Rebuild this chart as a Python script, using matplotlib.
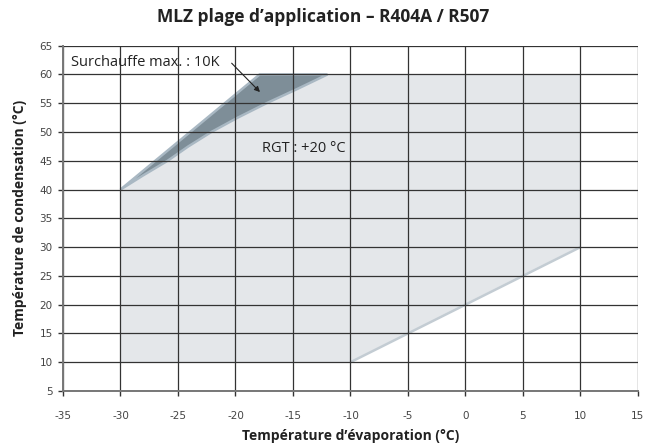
import matplotlib.pyplot as plt
from matplotlib.patches import Polygon

plt.rcParams['axes.unicode_minus'] = False

# Enveloppe d'application (evaporation, condensation)
env_x = [-30, -10, 10, 10, -17.9, -30]
env_y = [10, 10, 30, 60, 60, 40]

# Bande surchauffe max. 10K (bord externe puis bord interne)
band_x = [-30, -17.9, -12.0, -14.6, -17.3, -19.8, -22.1, -24.1, -25.9, -28.0]
band_y = [40, 60, 60, 57.5, 55, 52.5, 50, 47.5, 45, 42.5]

# Ligne de limite basse
low_x = [-10, 10]
low_y = [10, 30]

x_ticks = list(range(-35, 20, 5))
y_ticks = list(range(5, 70, 5))

fig = plt.figure(figsize=(6.46, 4.47), dpi=100)
ax = fig.add_axes([0.0975, 0.1253, 0.89, 0.7725])

ax.add_patch(Polygon(list(zip(env_x, env_y)), closed=True, facecolor='#e4e7ea',
                     edgecolor='none', zorder=1))
ax.add_patch(Polygon(list(zip(band_x, band_y)), closed=True, facecolor='#7e8e98',
                     edgecolor='#a9b8c3', linewidth=1.8, zorder=1.1))
ax.plot(low_x, low_y, color='#c3ccd3', linewidth=1.8, zorder=1.2, solid_capstyle='butt')

ax.set_xlim(-35, 15)
ax.set_ylim(5, 65)
ax.set_xticks(x_ticks)
ax.set_yticks(y_ticks)
ax.grid(True, color='#333333', linewidth=0.9)

for s in ['top', 'right']:
    ax.spines[s].set_visible(False)
for s in ['left', 'bottom']:
    ax.spines[s].set_color('#777777')
    ax.spines[s].set_linewidth(1.4)

tick_font = ['Liberation Sans Narrow', 'DejaVu Sans']
ax.tick_params(axis='both', length=3.5, width=1, color='#333333', labelcolor='#444444',
               labelsize=7.5)
ax.tick_params(axis='x', pad=11)
ax.tick_params(axis='y', pad=4)
for lab in ax.get_xticklabels() + ax.get_yticklabels():
    lab.set_family(tick_font)

ax.text(-34.3, 62.0, 'Surchauffe max. : 10K', fontsize=10.5, family='Open Sans',
        color='#222222', va='center', ha='left')
ax.annotate('', xy=(-17.7, 56.6), xytext=(-20.5, 62.3),
            arrowprops=dict(arrowstyle='-|>', color='#222222', lw=0.8,
                            mutation_scale=8))
ax.text(-17.7, 47.2, 'RGT : +20 °C', fontsize=10.5, family='Open Sans',
        color='#222222', va='center', ha='left')

fig.text(0.5, 0.962, 'MLZ plage d\u2019application \u2013 R404A / R507', ha='center',
         va='center', fontsize=12.5, fontweight='bold', family='Open Sans', color='#222222')
ax.set_xlabel('Température d\u2019évaporation (°C)', fontsize=10, fontweight='bold',
              family='Open Sans', color='#222222', labelpad=6)
ax.set_ylabel('Température de condensation (°C)', fontsize=10, fontweight='bold',
              family='Open Sans', color='#222222', labelpad=9)

fig.savefig('out.png', dpi=100)
